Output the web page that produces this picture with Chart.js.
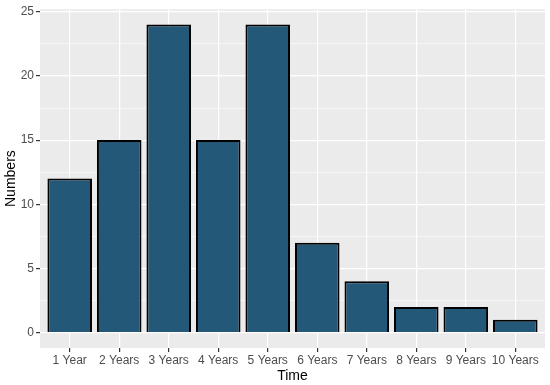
<!DOCTYPE html>
<html>
<head>
<meta charset="utf-8">
<script src="https://cdn.jsdelivr.net/npm/chart.js@4"></script>
<style>
  html, body { margin: 0; padding: 0; background: #fff; }
  canvas { display: block; }
</style>
</head>
<body>
<canvas id="chart" width="550" height="385"></canvas>
<script>
// categories and values
const categories = ["1 Year", "2 Years", "3 Years", "4 Years", "5 Years",
  "6 Years", "7 Years", "8 Years", "9 Years", "10 Years"];
const numbers = [12, 15, 24, 15, 24, 7, 4, 2, 2, 1];
const yTicks = [0, 2.5, 5, 7.5, 10, 12.5, 15, 17.5, 20, 22.5, 25];

// grey ggplot-like panel
const panelBg = {
  id: "panelBg",
  beforeDraw(chart) {
    const { ctx, chartArea: a } = chart;
    ctx.save();
    ctx.fillStyle = "#EBEBEB";
    ctx.fillRect(a.left, a.top, a.right - a.left, a.bottom - a.top);
    ctx.restore();
  }
};

const isMajor = v => v % 5 === 0;

new Chart(document.getElementById("chart"), {
  type: "bar",
  data: {
    datasets: [{
      data: numbers.map((v, i) => ({ x: i + 1, y: v })),
      backgroundColor: "#235878",
      borderColor: "#000",
      borderWidth: 2,
      barPercentage: 0.9,
      categoryPercentage: 1
    }]
  },
  options: {
    responsive: false,
    animation: false,
    layout: { padding: { top: 6, right: 5, left: 0, bottom: 0 } },
    plugins: { legend: { display: false }, tooltip: { enabled: false } },
    scales: {
      x: {
        type: "linear",
        offset: false,
        min: 0.4,
        max: 10.6,
        afterBuildTicks: s => { s.ticks = categories.map((c, i) => ({ value: i + 1 })); },
        afterFit: s => { s.height = 37; },
        border: { display: false },
        grid: { offset: false, color: "#fff", lineWidth: 1.2, tickLength: 4, tickColor: "#333" },
        ticks: {
          autoSkip: false,
          maxRotation: 0,
          padding: 1,
          color: "#4D4D4D",
          font: { family: "Liberation Sans", size: 12 },
          callback: v => categories[v - 1]
        },
        title: {
          display: true,
          text: "Time",
          color: "#000",
          padding: { top: 0, bottom: 0 },
          font: { family: "Liberation Sans", size: 14 }
        }
      },
      y: {
        min: -1.2,
        max: 25.2,
        afterBuildTicks: s => { s.ticks = yTicks.map(v => ({ value: v })); },
        afterFit: s => { s.width = 40; },
        border: { display: false },
        grid: {
          color: "#fff",
          lineWidth: c => isMajor(c.tick.value) ? 1.2 : 0.6,
          tickLength: 4,
          tickColor: c => isMajor(c.tick.value) ? "#333" : "rgba(0,0,0,0)"
        },
        ticks: {
          padding: 2,
          color: "#4D4D4D",
          font: { family: "Liberation Sans", size: 12 },
          callback: v => isMajor(v) ? String(v) : ""
        },
        title: {
          display: true,
          text: "Numbers",
          color: "#000",
          padding: { top: 3, bottom: 1 },
          font: { family: "Liberation Sans", size: 14 }
        }
      }
    }
  },
  plugins: [panelBg]
});
</script>
</body>
</html>
